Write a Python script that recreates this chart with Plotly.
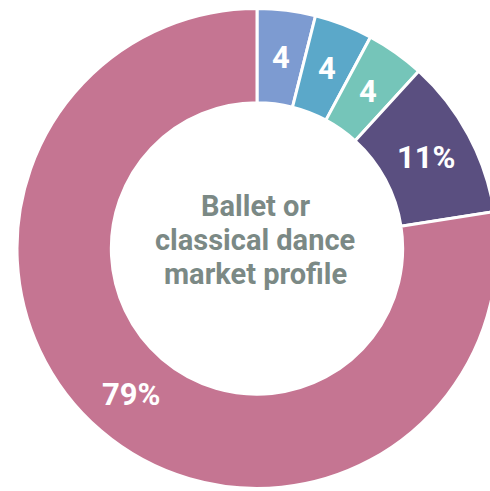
import math
import plotly.graph_objects as go

labels = ["Segment A", "Segment B", "Segment C", "Segment D", "Segment E"]
values = [4, 4, 4, 11, 79]
text_labels = ["4", "4", "4", "11%", "79%"]
colors = ["#7d9bd1", "#5ba8c9", "#75c5b9", "#5a4f80", "#c57592"]
center_lines = ["Ballet or", "classical dance", "market profile"]

# donut geometry (window pixels); the ring is cut by the right window edge
CX, CY, R = 257, 248.5, 240
HOLE = 0.607
W, H = int(CX + R), 491

fig = go.Figure(go.Pie(
    labels=labels,
    values=values,
    textinfo="none",
    marker=dict(colors=colors, line=dict(color="white", width=3)),
    hole=HOLE,
    sort=False,
    direction="clockwise",
    rotation=0,
    showlegend=False,
    hoverinfo="label+value",
    domain=dict(
        x=[(CX - R) / W, 1],
        y=[1 - (CY + R) / H, 1 - (CY - R) / H],
    ),
))


def to_paper(px, py):
    return px / W, 1 - py / H


# slice labels at the middle angle of each slice, mid-ring radius
total = sum(values)
cum = 0
r_text = R * (1 + HOLE) / 2
for v, t in zip(values, text_labels):
    mid = (cum + v / 2) / total * 2 * math.pi
    cum += v
    px = CX + r_text * math.sin(mid)
    py = CY - r_text * math.cos(mid)
    x, y = to_paper(px, py)
    fig.add_annotation(
        text=t, x=x, y=y, xref="paper", yref="paper",
        showarrow=False, xanchor="center", yanchor="middle",
        font=dict(family="Roboto", size=31, color="white", weight="bold"),
    )

ys = [206, 240, 274]
for line, ypx in zip(center_lines, ys):
    x, y = to_paper(CX - 2, ypx)
    fig.add_annotation(
        text=line, x=x, y=y, xref="paper", yref="paper",
        showarrow=False, xanchor="center", yanchor="middle",
        font=dict(family="Roboto", size=29, color="#7b8985", weight="bold"),
    )

fig.update_layout(
    width=W, height=H,
    margin=dict(l=0, r=0, t=0, b=0),
    paper_bgcolor="white", plot_bgcolor="white",
)

fig.write_html(
    "out.html",
    config={"displayModeBar": False},
    post_script="document.body.style.margin='0';"
                "document.body.style.overflow='hidden';"
                "document.documentElement.style.overflow='hidden';",
)
